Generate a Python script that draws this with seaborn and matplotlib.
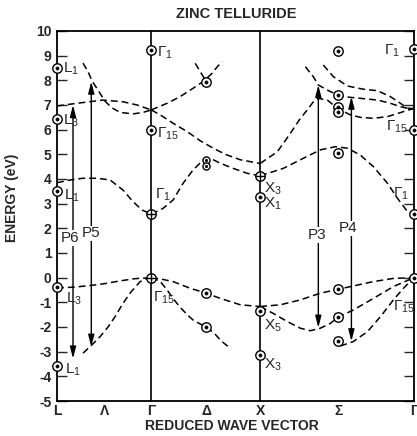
import numpy as np
import pandas as pd
import matplotlib
matplotlib.use("Agg")
import matplotlib.pyplot as plt
import seaborn as sns

sns.set_style("ticks")
plt.rcParams['font.family'] = ['Liberation Sans', 'DejaVu Sans']
plt.rcParams['mathtext.fontset'] = 'custom'
plt.rcParams['mathtext.rm'] = 'Liberation Sans'
plt.rcParams['mathtext.it'] = 'Liberation Sans'
plt.rcParams['axes.unicode_minus'] = False

# ---- symmetry points (k in units of 2*pi/a) ----
sym_labels = ['L', 'Λ', 'Γ', 'Δ', 'X', 'Σ', 'Γ']
sym_k = [0.0, 0.433, 0.866, 1.37, 1.866, 2.585, 3.28]
k_gamma, k_x, k_end = 0.866, 1.866, 3.28

# ---- dashed band curves ----
vb_LG_top_k = [0.0, 0.166, 0.304, 0.442, 0.580, 0.718, 0.866]
vb_LG_top_E = [-0.42, -0.38, -0.32, -0.24, -0.13, -0.04, 0.0]
vb_LG_low_k = [0.239, 0.322, 0.396, 0.469, 0.534, 0.598, 0.672, 0.764, 0.82, 0.866]
vb_LG_low_E = [-3.06, -2.72, -2.39, -2.0, -1.58, -1.1, -0.62, -0.16, -0.04, 0.0]
vb_GX_top_k = [0.866, 0.95, 1.067, 1.224, 1.371, 1.500, 1.684, 1.866]
vb_GX_top_E = [0.0, -0.05, -0.16, -0.43, -0.63, -0.84, -1.1, -1.17]
vb_GX_low_k = [0.866, 0.948, 1.012, 1.067, 1.132, 1.196, 1.251, 1.316, 1.371, 1.454, 1.518, 1.592]
vb_GX_low_E = [0.0, -0.15, -0.5, -0.85, -1.2, -1.5, -1.72, -1.88, -1.98, -2.3, -2.6, -2.86]
vb_XG_top_k = [1.866, 2.052, 2.236, 2.419, 2.585, 2.760, 2.907, 3.091, 3.28]
vb_XG_top_E = [-1.17, -1.1, -0.9, -0.63, -0.47, -0.3, -0.16, -0.03, 0.0]
vb_XG_mid_k = [1.866, 1.987, 2.116, 2.236, 2.328, 2.419, 2.512, 2.585, 2.723, 2.907, 3.091, 3.28]
vb_XG_mid_E = [-1.17, -1.45, -1.78, -2.05, -2.15, -2.05, -1.85, -1.6, -1.31, -0.84, -0.36, 0.0]
vb_XG_low_k = [2.603, 2.723, 2.852, 2.972, 3.091, 3.183, 3.28]
vb_XG_low_E = [-2.77, -2.59, -2.19, -1.58, -0.9, -0.43, 0.0]

cb1_LG_k = [0.0, 0.120, 0.239, 0.368, 0.488, 0.607, 0.699, 0.782, 0.866]
cb1_LG_E = [3.85, 3.96, 4.03, 4.03, 3.96, 3.55, 3.08, 2.74, 2.58]
cb1_GX_k = [0.866, 0.975, 1.067, 1.159, 1.251, 1.343, 1.408, 1.500, 1.619, 1.748, 1.866]
cb1_GX_E = [2.58, 2.81, 3.15, 3.83, 4.37, 4.77, 4.84, 4.64, 4.43, 4.23, 4.13]
cb1_XG_k = [1.866, 2.079, 2.263, 2.419, 2.557, 2.668, 2.787, 2.907, 3.036, 3.128, 3.220, 3.28]
cb1_XG_E = [4.13, 4.43, 4.84, 5.18, 5.31, 5.25, 4.97, 4.5, 3.83, 3.22, 2.68, 2.58]
cb2_LG_k = [0.0, 0.184, 0.423, 0.607, 0.736, 0.866]
cb2_LG_E = [6.96, 7.07, 7.2, 7.13, 7.0, 6.8]
cb3_LG_k = [0.239, 0.285, 0.322, 0.377, 0.442, 0.506, 0.580, 0.699, 0.791, 0.866]
cb3_LG_E = [8.7, 8.35, 7.98, 7.6, 7.15, 6.88, 6.7, 6.64, 6.7, 6.8]
cb2_GX_k = [0.866, 0.948, 1.067, 1.196, 1.316, 1.435, 1.546, 1.684, 1.866]
cb2_GX_E = [6.8, 6.6, 6.26, 5.92, 5.55, 5.25, 5.0, 4.78, 4.63]
cb3_GD_k = [0.866, 1.012, 1.132, 1.251, 1.343, 1.426, 1.472, 1.518]
cb3_GD_E = [6.8, 7.07, 7.34, 7.68, 7.95, 8.29, 8.55, 8.76]
cb4_D_k = [1.270, 1.334, 1.362]
cb4_D_E = [8.69, 8.22, 8.01]
cb2_XG_k = [1.866, 2.024, 2.144, 2.236, 2.300, 2.355, 2.401, 2.484, 2.539, 2.603,
            2.695, 2.787, 2.907, 3.036, 3.155, 3.229, 3.28]
cb2_XG_E = [4.63, 5.1, 5.85, 6.46, 6.8, 7.13, 7.27, 7.2, 7.0, 6.8,
            6.6, 6.5, 6.46, 6.53, 6.69, 6.8, 6.85]
cb3_S_k = [2.282, 2.355, 2.401, 2.512, 2.631, 2.787, 2.944, 3.063, 3.155, 3.220, 3.28]
cb3_S_E = [8.55, 8.15, 7.81, 7.54, 7.34, 7.27, 7.2, 7.07, 6.93, 6.87, 6.85]
cb4_S_k = [2.447, 2.539, 2.668, 2.815, 2.944, 3.063, 3.155, 3.220, 3.28]
cb4_S_E = [8.62, 8.15, 7.77, 7.64, 7.58, 7.34, 7.07, 6.87, 6.85]

bands = {
    'vb_LG_top': (vb_LG_top_k, vb_LG_top_E), 'vb_LG_low': (vb_LG_low_k, vb_LG_low_E),
    'vb_GX_top': (vb_GX_top_k, vb_GX_top_E), 'vb_GX_low': (vb_GX_low_k, vb_GX_low_E),
    'vb_XG_top': (vb_XG_top_k, vb_XG_top_E), 'vb_XG_mid': (vb_XG_mid_k, vb_XG_mid_E),
    'vb_XG_low': (vb_XG_low_k, vb_XG_low_E),
    'cb1_LG': (cb1_LG_k, cb1_LG_E), 'cb1_GX': (cb1_GX_k, cb1_GX_E), 'cb1_XG': (cb1_XG_k, cb1_XG_E),
    'cb2_LG': (cb2_LG_k, cb2_LG_E), 'cb3_LG': (cb3_LG_k, cb3_LG_E),
    'cb2_GX': (cb2_GX_k, cb2_GX_E), 'cb3_GD': (cb3_GD_k, cb3_GD_E), 'cb4_D': (cb4_D_k, cb4_D_E),
    'cb2_XG': (cb2_XG_k, cb2_XG_E), 'cb3_S': (cb3_S_k, cb3_S_E), 'cb4_S': (cb4_S_k, cb4_S_E),
}

# ---- experimental / calculated level points ----
dot_k = [0, 0, 0, 0, 0,
         0.866, 0.866,
         1.37, 1.37, 1.37,
         1.866, 1.866, 1.866,
         2.585, 2.585, 2.585, 2.585, 2.585, 2.585, 2.585, 2.585,
         3.28, 3.28, 3.28, 3.28]
dot_E = [8.5, 6.43, 3.52, -0.37, -3.58,
         9.23, 5.99,
         7.95, -0.63, -1.98,
         3.26, -1.35, -3.13,
         9.2, 7.4, 6.93, 6.72, 5.07, -0.47, -1.6, -2.57,
         9.25, 6.0, 2.58, 0.0]
pair_k = [1.37, 1.37]
pair_E = [4.78, 4.53]
cross_k = [0.866, 0.866, 1.866]
cross_E = [2.58, 0.0, 4.13]

# ---- labels of levels ----
lab_text = ['L$_1$', 'L$_3$', 'L$_1$', 'L$_3$', 'L$_1$',
            'Γ$_1$', 'Γ$_{15}$', 'Γ$_1$', 'Γ$_{15}$',
            'X$_3$', 'X$_1$', 'X$_5$', 'X$_3$',
            'Γ$_1$', 'Γ$_{15}$', 'Γ$_1$', 'Γ$_{15}$']
lab_k = [0.055, 0.055, 0.06, 0.08, 0.075,
         0.92, 0.92, 0.90, 0.88,
         1.90, 1.90, 1.90, 1.90,
         3.155, 3.22, 3.229, 3.091]
lab_E = [8.45, 6.35, 3.3, -0.85, -3.72,
         9.1, 5.85, 3.35, -0.8,
         3.62, 2.98, -1.95, -3.55,
         9.2, 6.1, 3.4, -1.2]
lab_ha = ['left'] * 13 + ['right', 'right', 'right', 'left']

# ---- transitions ----
arrow_lab = ['P6', 'P5', 'P3', 'P4']
arrow_k = [0.147, 0.315, 2.401, 2.705]
arrow_top = [7.0, 7.95, 7.81, 7.34]
arrow_bot = [-3.28, -2.8, -2.03, -2.58]
arrow_lab_k = [0.12, 0.313, 2.392, 2.677]
arrow_lab_E = [1.6, 1.8, 1.73, 2.0]

# ================= figure =================
fig = plt.figure(figsize=(4.17, 4.36), dpi=100)
ax = fig.add_axes([57 / 417, 1 - 401 / 436, (414 - 57) / 417, (401 - 31) / 436])

rows = []
for name, (ks, Es) in bands.items():
    for kk, ee in zip(ks, Es):
        rows.append((name, kk, ee))
df = pd.DataFrame(rows, columns=['band', 'k', 'E'])

sns.lineplot(data=df, x='k', y='E', units='band', estimator=None, sort=False,
             color='black', lw=1.1, linestyle=(0, (4.5, 2.6)), ax=ax, legend=False,
             zorder=3)

for kv in [k_gamma, k_x]:
    ax.axvline(kv, color='black', lw=1.2, zorder=2)

sns.scatterplot(x=dot_k, y=dot_E, marker='o', s=46, color='white', edgecolor='black',
                linewidth=1.0, ax=ax, zorder=5, clip_on=False, legend=False)
sns.scatterplot(x=dot_k, y=dot_E, marker='o', s=5, color='black', edgecolor='black',
                linewidth=0.5, ax=ax, zorder=6, clip_on=False, legend=False)
sns.scatterplot(x=pair_k, y=pair_E, marker='o', s=26, color='white', edgecolor='black',
                linewidth=1.0, ax=ax, zorder=5, legend=False)
sns.scatterplot(x=pair_k, y=pair_E, marker='o', s=3, color='black', edgecolor='black',
                linewidth=0.5, ax=ax, zorder=6, legend=False)
sns.scatterplot(x=cross_k, y=cross_E, marker='o', s=46, color='white', edgecolor='black',
                linewidth=1.0, ax=ax, zorder=5, legend=False)
ax.scatter(cross_k, cross_E, marker='+', s=46, color='black', linewidths=1.0, zorder=6)

for t, kk, ee, ha in zip(lab_text, lab_k, lab_E, lab_ha):
    ax.text(kk, ee, t, ha=ha, va='center', fontsize=11, zorder=7)

for lab, kk, top, bot, lk, le in zip(arrow_lab, arrow_k, arrow_top, arrow_bot,
                                     arrow_lab_k, arrow_lab_E):
    ax.annotate('', xy=(kk, top), xytext=(kk, bot),
                arrowprops=dict(arrowstyle='<|-|>,head_length=0.7,head_width=0.18',
                                color='black', lw=1.0, shrinkA=0, shrinkB=0),
                zorder=4)
    ax.text(lk, le, lab, ha='center', va='center', fontsize=11, zorder=8,
            bbox=dict(facecolor='white', edgecolor='none', pad=0.6))

ax.set_xlim(0, k_end)
ax.set_ylim(-5, 10)
ax.set_yticks(range(-5, 11))
ax.set_yticklabels([str(v) for v in range(-5, 11)], fontweight='bold', fontsize=10)
ax.set_xticks(sym_k)
ax.set_xticklabels(sym_labels, fontweight='bold', fontsize=10)
ax.tick_params(axis='y', direction='in', length=7, width=1.0, left=True, right=True,
               labelleft=True, labelright=False, pad=4)
ax.tick_params(axis='x', length=0, pad=2)
for sp in ax.spines.values():
    sp.set_visible(True)
    sp.set_linewidth(1.3)
    sp.set_color('black')
ax.set_xlabel('')
ax.set_ylabel('')

fig.text(236 / 417, 1 - 14 / 436, 'ZINC TELLURIDE', ha='center', va='center',
         fontsize=10.5, fontweight='bold')
fig.text(232 / 417, 1 - 426 / 436, 'REDUCED WAVE VECTOR', ha='center', va='center',
         fontsize=10, fontweight='bold')
fig.text(12 / 417, 1 - 198 / 436, 'ENERGY (eV)', ha='center', va='center',
         rotation=90, fontsize=10, fontweight='bold')

fig.savefig('out.png', dpi=100, facecolor='white')
